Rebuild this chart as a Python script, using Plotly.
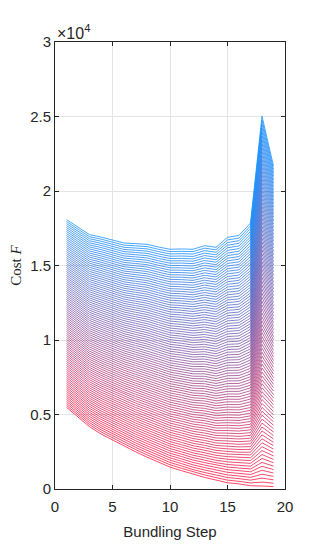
import numpy as np
import plotly.graph_objects as go

# Bundling steps
steps = list(range(1, 20))

# Upper (blue) envelope of the cost family, in units of cost F
cost_upper = [18080, 17580, 17070, 16910, 16730, 16510, 16470, 16420, 16240,
              16090, 16110, 16090, 16330, 16220, 16890, 17020, 17850, 25020, 21670]
# Lower (red) envelope of the cost family
cost_lower = [5480, 4830, 4180, 3690, 3280, 2900, 2500, 2140, 1810,
              1470, 1230, 980, 780, 600, 420, 340, 220, 200, 160]

# Number of curves in the family (red -> blue)
n_curves = 95
mix = np.linspace(0.0, 1.0, n_curves)

y_ticks = [0, 5000, 10000, 15000, 20000, 25000, 30000]
y_ticklabels = ["0", "0.5", "1", "1.5", "2", "2.5", "3"]
x_ticks = [0, 5, 10, 15, 20]

red = np.array([255, 25, 65])
blue = np.array([25, 145, 255])

lo = np.array(cost_lower, dtype=float)
hi = np.array(cost_upper, dtype=float)

fig = go.Figure()
for t in mix:
    c = (1 - t) * red + t * blue
    col = f"rgb({int(c[0])},{int(c[1])},{int(c[2])})"
    fig.add_trace(go.Scatter(
        x=steps, y=lo + t * (hi - lo), mode="lines",
        line=dict(color=col, width=0.8), showlegend=False, hoverinfo="skip"))

axis_common = dict(
    showline=True, linecolor="#262626", linewidth=1, mirror="allticks",
    ticks="inside", ticklen=4, tickcolor="#262626", automargin=False,
    showgrid=True, gridcolor="#e3e3e3", gridwidth=1, zeroline=False,
    tickfont=dict(family="Liberation Sans, Arial", size=15, color="#262626"),
)

fig.update_layout(
    width=299, height=534,
    margin=dict(l=47, r=22, t=34, b=53),
    paper_bgcolor="white", plot_bgcolor="white",
    xaxis=dict(range=[0, 20], tickvals=x_ticks, ticklabelstandoff=4,
               title=dict(text="Bundling Step", standoff=12,
                          font=dict(family="Liberation Sans, Arial", size=15, color="#262626")),
               **axis_common),
    yaxis=dict(range=[0, 30000], tickvals=y_ticks, ticktext=y_ticklabels,
               title=dict(text="Cost <i>F</i>", standoff=19,
                          font=dict(family="Liberation Serif, Times New Roman", size=15, color="#262626")),
               **axis_common),
    annotations=[dict(text="×10<sup>4</sup>", xref="paper", yref="paper", x=0, y=1,
                      xanchor="left", yanchor="bottom", yshift=-2, showarrow=False,
                      font=dict(family="Liberation Sans, Arial", size=16, color="#262626"))],
)

fig.write_html("out.html")
